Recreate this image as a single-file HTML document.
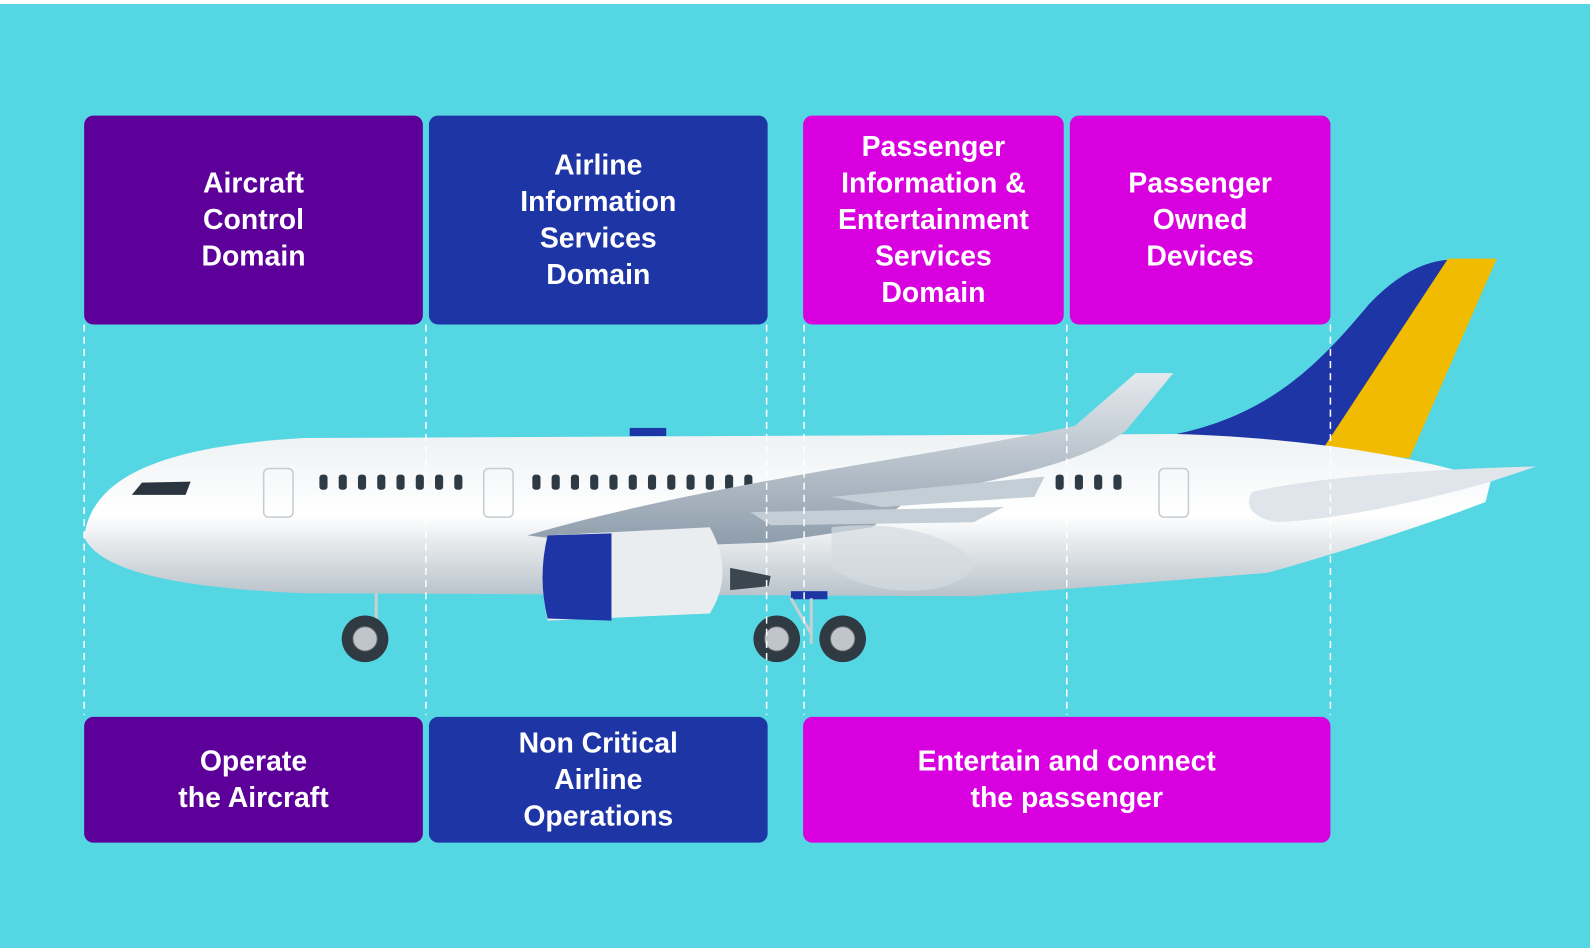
<!DOCTYPE html>
<html><head><meta charset="utf-8"><style>
body{margin:0;width:1590px;height:948px;background:#54d7e3;position:relative;overflow:hidden;font-family:"Liberation Sans",sans-serif}
#wrap{position:absolute;left:0;top:0;width:1568px;height:935px;transform:scale(1.01403);transform-origin:0 0}
.top{position:absolute;left:0;top:0;width:1590px;height:4px;background:#fff}
.b{position:absolute;border-radius:9px;color:#fff;font-weight:bold;font-size:28px;line-height:36px;display:flex;align-items:center;justify-content:center;text-align:center}
.p{background:#5c0099}.n{background:#1e35a6}.m{background:#d900e0}
svg{position:absolute;left:0;top:0}
</style></head><body>
<div class="top"></div>
<div id="wrap">
<svg width="1568" height="935">
<defs>
<linearGradient id="f" x1="0" y1="0" x2="0" y2="1"><stop offset="0" stop-color="#eef2f4"/><stop offset=".5" stop-color="#fff"/><stop offset="1" stop-color="#b8c2ca"/></linearGradient>
<linearGradient id="w" x1="0" y1="0" x2="0" y2="1"><stop offset="0" stop-color="#e4e9ed"/><stop offset="1" stop-color="#8d9cab"/></linearGradient>
</defs>
<path d="M1150,430 C1250,412 1300,360 1350,300 Q1390,258 1430,256 L1310,442 Z" fill="#1e35a6"/>
<path d="M1305,442 L1428,255 L1476,255 L1390,452 Z" fill="#f0bb00"/>
<rect x="621" y="422" width="36" height="8" fill="#1e35a6"/>
<path d="M83,530 C90,470 160,440 300,432 L1160,428 C1300,432 1420,455 1470,475 L1465,495 C1400,520 1320,545 1250,565 L960,588 L300,585 C180,580 100,565 83,530 Z" fill="url(#f)"/>
<path d="M1235,485 C1300,470 1420,462 1515,460 L1470,475 C1400,495 1320,512 1260,515 C1230,510 1228,495 1235,485 Z" fill="#dfe5ea"/>
<path d="M130,488 L140,476 L188,475 L183,488 Z" fill="#2a3540"/>
<g fill="#2e3a44">
<rect x="315" y="468" width="8" height="15" rx="3"/><rect x="334" y="468" width="8" height="15" rx="3"/><rect x="353" y="468" width="8" height="15" rx="3"/><rect x="372" y="468" width="8" height="15" rx="3"/><rect x="391" y="468" width="8" height="15" rx="3"/><rect x="410" y="468" width="8" height="15" rx="3"/><rect x="429" y="468" width="8" height="15" rx="3"/><rect x="448" y="468" width="8" height="15" rx="3"/>
<rect x="525" y="468" width="8" height="15" rx="3"/><rect x="544" y="468" width="8" height="15" rx="3"/><rect x="563" y="468" width="8" height="15" rx="3"/><rect x="582" y="468" width="8" height="15" rx="3"/><rect x="601" y="468" width="8" height="15" rx="3"/><rect x="620" y="468" width="8" height="15" rx="3"/><rect x="639" y="468" width="8" height="15" rx="3"/><rect x="658" y="468" width="8" height="15" rx="3"/><rect x="677" y="468" width="8" height="15" rx="3"/><rect x="696" y="468" width="8" height="15" rx="3"/><rect x="715" y="468" width="8" height="15" rx="3"/><rect x="734" y="468" width="8" height="15" rx="3"/>
<rect x="1041" y="468" width="8" height="15" rx="3"/><rect x="1060" y="468" width="8" height="15" rx="3"/><rect x="1079" y="468" width="8" height="15" rx="3"/><rect x="1098" y="468" width="8" height="15" rx="3"/>
</g>
<g fill="none" stroke="#c5ccd2" stroke-width="1.5"><rect x="260" y="462" width="29" height="48" rx="5"/><rect x="477" y="462" width="29" height="48" rx="5"/><rect x="1143" y="462" width="29" height="48" rx="5"/></g>
<path d="M520,528 C700,475 950,445 1060,420 L1120,368 L1157,368 L1110,425 C1070,455 1000,470 900,490 L860,520 L760,535 L620,540 Z" fill="url(#w)"/>
<path d="M820,490 L1030,470 L1020,490 L870,500 Z M740,505 L990,500 L960,515 L760,518 Z" fill="#c4ced6"/>
<path d="M820,520 C900,510 960,540 960,560 C940,590 860,590 820,560 Z" fill="#d4dbe1" opacity=".7"/>
<path d="M720,560 L760,568 L758,578 L720,582 Z" fill="#3c464e"/>
<path d="M540,528 L700,520 Q725,565 700,605 L540,612 Q530,570 540,528 Z" fill="#e9edf0"/>
<path d="M540,528 L603,526 L603,612 L540,610 Q530,570 540,528 Z" fill="#1e35a6"/>
<rect x="780" y="583" width="36" height="8" fill="#1e35a6"/>
<g stroke="#c9cfd4" stroke-width="3"><line x1="371" y1="585" x2="371" y2="625"/><line x1="800" y1="590" x2="800" y2="635"/><line x1="780" y1="590" x2="800" y2="625"/></g>
<g><circle cx="360" cy="630" r="23" fill="#2f3a42"/><circle cx="360" cy="630" r="12" fill="#bfc5ca" stroke="#666"/>
<circle cx="766" cy="630" r="23" fill="#2f3a42"/><circle cx="766" cy="630" r="12" fill="#bfc5ca" stroke="#666"/>
<circle cx="831" cy="630" r="23" fill="#2f3a42"/><circle cx="831" cy="630" r="12" fill="#bfc5ca" stroke="#666"/></g>
<g stroke="#fff" stroke-width="1.5" stroke-dasharray="7,5"><line x1="83" y1="320" x2="83" y2="705"/><line x1="420" y1="320" x2="420" y2="705"/><line x1="756" y1="320" x2="756" y2="705"/><line x1="793" y1="320" x2="793" y2="705"/><line x1="1052" y1="320" x2="1052" y2="705"/><line x1="1312" y1="320" x2="1312" y2="705"/></g>
</svg>
<div class="b p" style="left:83px;top:114px;width:334px;height:206px">Aircraft<br>Control<br>Domain</div>
<div class="b n" style="left:423px;top:114px;width:334px;height:206px">Airline<br>Information<br>Services<br>Domain</div>
<div class="b m" style="left:792px;top:114px;width:257px;height:206px">Passenger<br>Information &amp;<br>Entertainment<br>Services<br>Domain</div>
<div class="b m" style="left:1055px;top:114px;width:257px;height:206px">Passenger<br>Owned<br>Devices</div>
<div class="b p" style="left:83px;top:707px;width:334px;height:124px">Operate<br>the Aircraft</div>
<div class="b n" style="left:423px;top:707px;width:334px;height:124px">Non Critical<br>Airline<br>Operations</div>
<div class="b m" style="left:792px;top:707px;width:520px;height:124px">Entertain and connect<br>the passenger</div>
</div>
</body></html>
